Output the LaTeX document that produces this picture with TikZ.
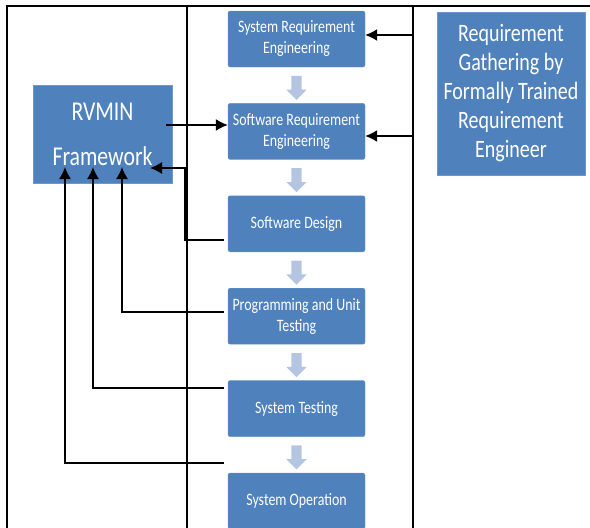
\documentclass[tikz,border=0pt]{standalone}
\usepackage{fontspec}
\setmainfont{Carlito}[FakeStretch=0.8]
\usetikzlibrary{shapes.arrows,arrows.meta,positioning,calc}

\definecolor{boxblue}{HTML}{4F81BD}
\definecolor{boxedge}{HTML}{6F97C9}
\definecolor{stepblue}{HTML}{B3C5E0}

\begin{document}
\begin{tikzpicture}[
    x=1pt, y=1pt,
    node distance=36pt,
    phase/.style={rectangle, draw=boxedge, fill=boxblue, text=white, rounded corners=2pt, align=center,
        minimum width=137pt, minimum height=56pt, inner sep=2pt, font=\fontsize{17.4}{21}\selectfont},
    bigbox/.style={rectangle, draw=boxedge, fill=boxblue, text=white, align=center, inner sep=0pt},
    flow/.style={single arrow, fill=stepblue, shape border rotate=270, single arrow head extend=5pt,
        inner sep=5pt, minimum height=24pt},
    line/.style={draw, line width=1.4pt, -{Latex[length=12pt,width=12pt]}},
    frame/.style={draw, line width=2pt}
]
    \useasboundingbox (0,0) rectangle (590,-528);

    % Frame lines
    \path [frame] (7,-528) -- (7,-6) -- (590,-6);
    \path [frame] (187,-6) -- (187,-528);
    \path [frame] (413,-6) -- (413,-528);

    % Place nodes
    \node [phase] at (296.5,-39) (sre) {System Requirement\\Engineering};
    \node [phase, below=of sre]  (swre) {Software Requirement\\Engineering};
    \node [phase, below=of swre] (sd)   {Software Design};
    \node [phase, below=of sd]   (put)  {Programming and Unit\\Testing};
    \node [phase, below=of put]  (st)   {System Testing};
    \node [phase, below=of st]   (so)   {System Operation};

    \node [bigbox, minimum width=139pt, minimum height=98pt, font=\fontsize{27.2}{45}\selectfont]
        at (102.5,-134) (rvmin) {RVMIN\\Framework};
    \node [bigbox, minimum width=148pt, minimum height=163pt, font=\fontsize{25}{29}\selectfont]
        at (511,-93.5) (gather) {Requirement\\Gathering by\\Formally Trained\\Requirement\\Engineer};

    % Flow between phases
    \foreach \a/\b in {sre/swre, swre/sd, sd/put, put/st, st/so}
        \node [flow] at ($(\a.south)!0.5!(\b.north)$) (\a to \b) {};

    % Coordinates for the free ends
    \coordinate (in sre)   at (413,-35);
    \coordinate (in swre)  at (413,-136);
    \coordinate (rv out)   at (166,-125);
    \coordinate (sd out)   at (224,-240);
    \coordinate (put out)  at (224,-312);
    \coordinate (st out)   at (224,-388);
    \coordinate (so out)   at (224,-463);
    \coordinate (fb sd)    at (150,-168);
    \coordinate (fb put)   at (122,-167);
    \coordinate (fb st)    at (93,-167);
    \coordinate (fb so)    at (65,-167);

    % Draw edges
    \path [line] (in sre) -- (in sre -| sre.east);
    \path [line] (in swre) -- (in swre -| swre.east);
    \path [line] (rv out) -- (rv out -| swre.west);
    \path [line] (sd out) -| ([xshift=35pt]fb sd) -- (fb sd);
    \path [line] (put out) -| (fb put);
    \path [line] (st out) -| (fb st);
    \path [line] (so out) -| (fb so);
\end{tikzpicture}
\end{document}
